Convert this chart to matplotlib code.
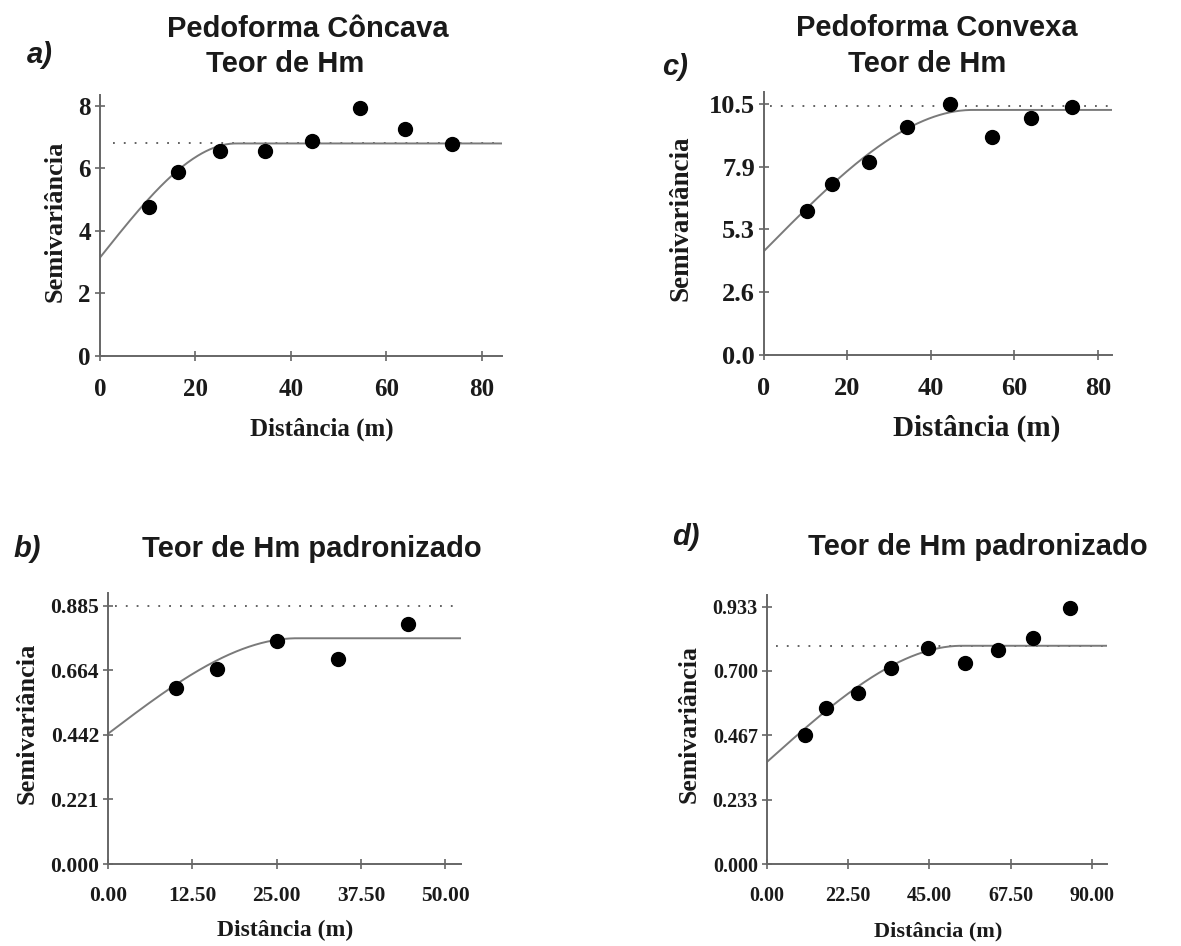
import numpy as np
import matplotlib
matplotlib.use("Agg")
import matplotlib.pyplot as plt

W, H = 1181, 946

# --- data ---
# a) Pedoforma Concava, Teor de Hm
dist_a = [10.3, 16.4, 25.1, 34.6, 44.5, 54.5, 63.9, 73.8]
semi_a = [4.77, 5.90, 6.57, 6.57, 6.88, 7.95, 7.26, 6.77]
model_a = dict(nugget=3.15, sill=6.80, rng=28.5)
var_a = 6.80

# b) Pedoforma Concava, Teor de Hm padronizado
dist_b = [10.1, 16.1, 25.0, 34.1, 44.5]
semi_b = [0.603, 0.669, 0.763, 0.702, 0.823]
model_b = dict(nugget=0.446, sill=0.773, rng=28.0)
var_b = 0.885

# c) Pedoforma Convexa, Teor de Hm
dist_c = [10.3, 16.2, 25.2, 34.2, 44.6, 54.6, 63.9, 73.9]
semi_c = [6.04, 7.14, 8.09, 9.55, 10.50, 9.13, 9.93, 10.36]
model_c = dict(nugget=4.35, sill=10.25, rng=50.0)
var_c = 10.42

# d) Pedoforma Convexa, Teor de Hm padronizado
dist_d = [10.6, 16.3, 25.1, 34.3, 44.7, 54.9, 63.9, 73.6, 84.0]
semi_d = [0.468, 0.565, 0.621, 0.712, 0.784, 0.728, 0.776, 0.818, 0.929]
model_d = dict(nugget=0.37, sill=0.791, rng=54.0)
var_d = 0.791

xticks_a = [0, 20, 40, 60, 80]
xlabels_a = ["0", "20", "40", "60", "80"]
yticks_a = [0, 2, 4, 6, 8]
ylabels_a = ["0", "2", "4", "6", "8"]

xticks_b = [0, 12.5, 25, 37.5, 50]
xlabels_b = ["0.00", "12.50", "25.00", "37.50", "50.00"]
yticks_b = [0, 0.22125, 0.4425, 0.66375, 0.885]
ylabels_b = ["0.000", "0.221", "0.442", "0.664", "0.885"]

xticks_c = [0, 20, 40, 60, 80]
xlabels_c = ["0", "20", "40", "60", "80"]
yticks_c = [0, 2.625, 5.25, 7.875, 10.5]
ylabels_c = ["0.0", "2.6", "5.3", "7.9", "10.5"]

xticks_d = [0, 22.5, 45, 67.5, 90]
xlabels_d = ["0.00", "22.50", "45.00", "67.50", "90.00"]
yticks_d = [0, 0.23325, 0.4665, 0.69975, 0.933]
ylabels_d = ["0.000", "0.233", "0.467", "0.700", "0.933"]


def spherical(h, nugget, sill, rng):
    r = np.minimum(h / rng, 1.0)
    return nugget + (sill - nugget) * (1.5 * r - 0.5 * r ** 3)


def fx(x):
    return x / W


def fy(y):
    return 1 - y / H


SERIF = "Liberation Serif"
SANS = "Liberation Sans"


def panel(rect_px, dist, semi, model, var, xlim, ylim, dot_start,
          xt, xl, yt, yl, tick_fs):
    left, bottom, right, top = rect_px
    ax = fig.add_axes([fx(left), fy(bottom), (right - left) / W, (bottom - top) / H])
    h = np.linspace(0, xlim[1], 400)
    ax.plot([dot_start, xlim[1]], [var, var], color="#555555", lw=1.3,
            linestyle=(0, (1, 5)), zorder=1)
    ax.plot(h, spherical(h, **model), color="#7a7a7a", lw=1.4, zorder=2)
    ax.plot(dist, semi, "o", color="black", ms=10, zorder=3, clip_on=False)
    ax.set_xlim(*xlim)
    ax.set_ylim(*ylim)
    ax.set_xticks(xt)
    ax.set_xticklabels(xl)
    ax.set_yticks(yt)
    ax.set_yticklabels(yl)
    for s in ["top", "right"]:
        ax.spines[s].set_visible(False)
    for s in ["left", "bottom"]:
        ax.spines[s].set_color("#666666")
        ax.spines[s].set_linewidth(1.4)
    ax.tick_params(direction="inout", length=7, width=1.2, color="#666666")
    ax.tick_params(axis="x", pad=12)
    ax.tick_params(axis="y", pad=3)
    for lab in ax.get_xticklabels() + ax.get_yticklabels():
        lab.set_fontfamily(SERIF)
        lab.set_fontweight("bold")
        lab.set_fontsize(tick_fs)
        lab.set_color("#1a1a1a")
    return ax


fig = plt.figure(figsize=(W / 100, H / 100), dpi=100)

panel((100, 356, 502, 95), dist_a, semi_a, model_a, var_a, (0, 84.2), (0, 8.35), 2.8,
      xticks_a, xlabels_a, yticks_a, ylabels_a, 18)
panel((764, 355, 1112, 92), dist_c, semi_c, model_c, var_c, (0, 83.4), (0, 11.0), 1.4,
      xticks_c, xlabels_c, yticks_c, ylabels_c, 19)
panel((108, 864, 461, 593), dist_b, semi_b, model_b, var_b, (0, 52.3), (0, 0.928), 1.0,
      xticks_b, xlabels_b, yticks_b, ylabels_b, 15.5)
panel((767, 864, 1107, 595), dist_d, semi_d, model_d, var_d, (0, 94.2), (0, 0.975), 2.6,
      xticks_d, xlabels_d, yticks_d, ylabels_d, 14.5)

# axis labels
def label(x, y, s, fs, rot=0):
    fig.text(fx(x), fy(y), s, fontsize=fs, family=SERIF, fontweight="bold",
             ha="center", va="center", rotation=rot, color="#1a1a1a")

label(55, 221, "Semivariância", 19, 90)
label(681, 218, "Semivariância", 19.5, 90)
label(27, 723, "Semivariância", 19, 90)
label(689, 724, "Semivariância", 18.5, 90)
label(322, 429, "Distância (m)", 18, 0)
label(977, 428, "Distância (m)", 21, 0)
label(285, 930, "Distância (m)", 17, 0)
label(938, 931, "Distância (m)", 16, 0)

# titles
def title(x, y, s, ha="center", style="normal"):
    fig.text(fx(x), fy(y), s, fontsize=21, family=SANS, fontweight="bold",
             ha=ha, va="baseline", style=style, color="#1a1a1a")

title(308, 37, "Pedoforma Côncava")
title(285, 72, "Teor de Hm")
title(27, 63, "a)", ha="left", style="italic")
title(937, 36, "Pedoforma Convexa")
title(927, 72, "Teor de Hm")
title(662, 75, "c)", ha="left", style="italic")
title(13, 557, "b)", ha="left", style="italic")
title(142, 557, "Teor de Hm padronizado", ha="left")
title(672, 545, "d)", ha="left", style="italic")
title(808, 555, "Teor de Hm padronizado", ha="left")

fig.savefig("out.png", dpi=100)
